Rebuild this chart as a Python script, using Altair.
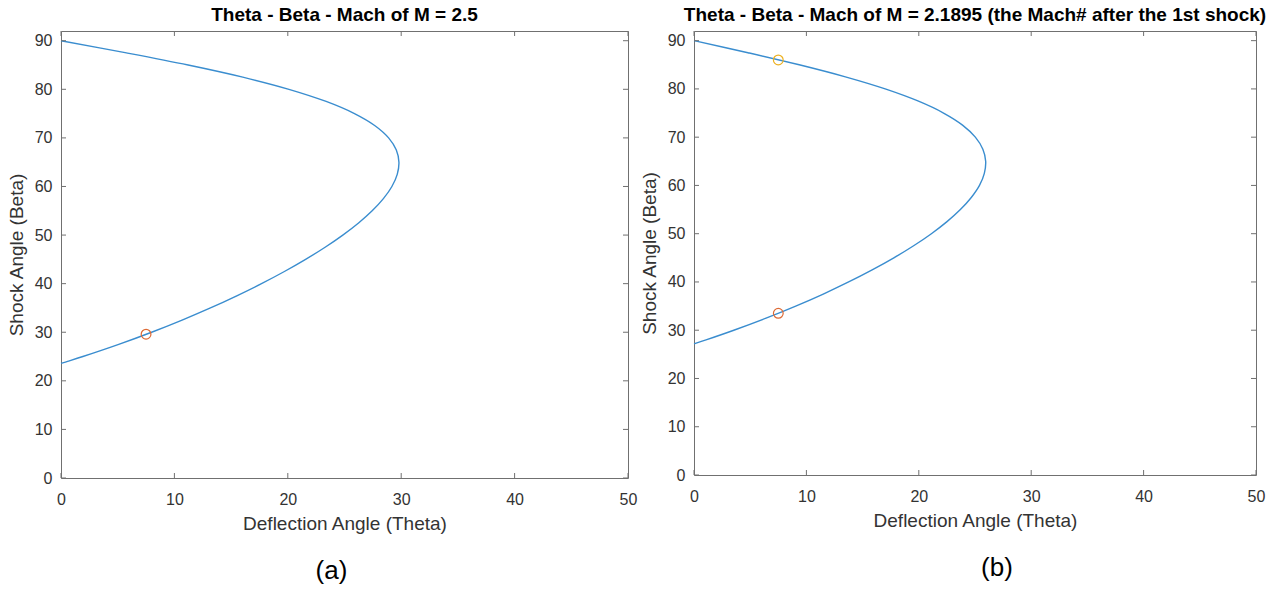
import altair as alt
import pandas as pd

# ---- data ----
beta_a = [23.58, 24, 25, 27.5, 30, 32.5, 35, 37.5, 40, 42.5, 45, 47.5, 50, 52.5, 55, 57.5,
          60, 62.5, 65, 67.5, 70, 72.5, 75, 77.5, 80, 82.5, 85, 87.5, 90]
theta_a = [0, 0.58, 1.93, 5.09, 7.99, 10.68, 13.18, 15.50, 17.68, 19.70, 21.57, 23.29, 24.85,
           26.24, 27.44, 28.43, 29.18, 29.65, 29.80, 29.57, 28.89, 27.69, 25.88, 23.38, 20.10,
           16.03, 11.21, 5.77, 0]
beta_b = [27.18, 28, 30, 32.5, 35, 37.5, 40, 42.5, 45, 47.5, 50, 52.5, 55, 57.5, 60, 62.5,
          65, 67.5, 70, 72.5, 75, 77.5, 80, 82.5, 85, 87.5, 90]
theta_b = [0, 1.07, 3.54, 6.41, 9.05, 11.50, 13.76, 15.85, 17.78, 19.54, 21.12, 22.51, 23.70,
           24.67, 25.40, 25.83, 25.95, 25.70, 25.03, 23.89, 22.20, 19.92, 17.01, 13.47, 9.36,
           4.80, 0]

pts_a_theta = [7.5]
pts_a_beta = [29.6]
pts_a_color = ["#DD6A35"]
pts_b_theta = [7.5, 7.5]
pts_b_beta = [86.0, 33.5]
pts_b_color = ["#EDB120", "#DD6A35"]

x_ticks = [0, 10, 20, 30, 40, 50]
y_ticks = [0, 10, 20, 30, 40, 50, 60, 70, 80, 90]
titles = ["Theta - Beta - Mach of M = 2.5",
          "Theta - Beta - Mach of M = 2.1895 (the Mach# after the 1st shock)"]
panel_labels = ["(a)", "(b)"]
x_title = "Deflection Angle (Theta)"
y_title = "Shock Angle (Beta)"

FONT = "Liberation Sans"
BOX = "#707070"


def panel(beta, theta, pb, pt, pc, title, lab, lab_dx, W, H):
    xs = alt.Scale(domain=[0, 50], nice=False, zero=False)
    ys = alt.Scale(domain=[0, 92], nice=False, zero=False)
    curve = pd.DataFrame({"theta": theta, "beta": beta})
    line = alt.Chart(curve).mark_line(
        color="#3A8DCF", strokeWidth=1.4, interpolate="catmull-rom"
    ).encode(
        x=alt.X("theta:Q", scale=xs, title=x_title,
                axis=alt.Axis(values=x_ticks, title=x_title, labelFlush=False)),
        y=alt.Y("beta:Q", scale=ys, title=y_title,
                axis=alt.Axis(values=y_ticks, title=y_title)),
        order="beta:Q",
    )
    pts = alt.Chart(pd.DataFrame({"theta": pt, "beta": pb, "c": pc})).mark_point(
        shape="circle", filled=False, size=95, strokeWidth=1.2, opacity=1
    ).encode(
        x=alt.X("theta:Q", scale=xs, title=x_title),
        y=alt.Y("beta:Q", scale=ys, title=y_title),
        color=alt.Color("c:N", scale=None),
    )
    xt = pd.DataFrame({"xt": x_ticks})
    yt = pd.DataFrame({"yt": y_ticks})
    tb = alt.Chart(xt).mark_rule(color=BOX, strokeWidth=1).encode(
        x=alt.X("xt:Q", scale=xs, title=x_title), y=alt.value(H), y2=alt.value(H - 5))
    tt = alt.Chart(xt).mark_rule(color=BOX, strokeWidth=1).encode(
        x=alt.X("xt:Q", scale=xs, title=x_title), y=alt.value(0), y2=alt.value(5))
    tl = alt.Chart(yt).mark_rule(color=BOX, strokeWidth=1).encode(
        y=alt.Y("yt:Q", scale=ys, title=y_title), x=alt.value(0), x2=alt.value(5))
    tr = alt.Chart(yt).mark_rule(color=BOX, strokeWidth=1).encode(
        y=alt.Y("yt:Q", scale=ys, title=y_title), x=alt.value(W - 5), x2=alt.value(W))
    txt = alt.Chart(pd.DataFrame({"lab": [lab]})).mark_text(
        font=FONT, fontSize=26, color="black", baseline="middle", align="center"
    ).encode(text="lab:N", x=alt.value(W / 2 + lab_dx), y=alt.value(H + 93))
    return alt.layer(line, pts, tb, tt, tl, tr, txt).properties(
        width=W, height=H,
        title=alt.TitleParams(text=title, font=FONT, fontSize=19, fontWeight="bold",
                              color="black", offset=6, anchor="middle"),
    )


left = panel(beta_a, theta_a, pts_a_beta, pts_a_theta, pts_a_color, titles[0],
             panel_labels[0], -13, 567, 447)
right = panel(beta_b, theta_b, pts_b_beta, pts_b_theta, pts_b_color, titles[1],
              panel_labels[1], 22, 562, 444)

chart = alt.hconcat(left, right, spacing=1).properties(
    padding={"left": 6, "top": 5, "right": 0, "bottom": 0}
).configure_view(stroke=BOX, strokeWidth=1).configure_axis(
    domain=False, ticks=False, tickSize=0, grid=False,
    labelFont=FONT, labelFontSize=16, labelColor="#333333",
    titleFont=FONT, titleFontSize=19, titleFontWeight="normal", titleColor="#333333",
).configure_axisX(labelPadding=13, titlePadding=7).configure_axisY(labelPadding=9, titlePadding=8)

chart.save("out.html", embed_options={"renderer": "svg", "actions": False})
